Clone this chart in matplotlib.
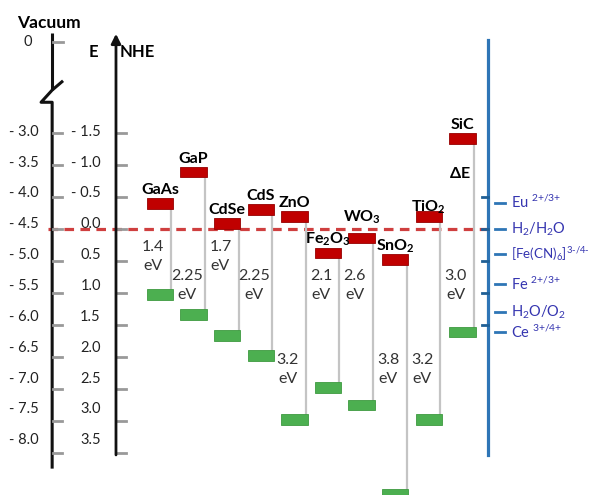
import matplotlib
matplotlib.use('Agg')
import matplotlib.pyplot as plt

plt.rcParams['font.family'] = ['Lato', 'DejaVu Sans']
plt.rcParams['mathtext.fontset'] = 'custom'
plt.rcParams['mathtext.rm'] = 'Lato'
plt.rcParams['mathtext.it'] = 'Lato'
plt.rcParams['mathtext.bf'] = 'Lato:bold'
plt.rcParams['mathtext.default'] = 'regular'

# band edges vs NHE (V)
materials = ['GaAs', 'GaP', 'CdSe', 'CdS', 'ZnO', r'Fe$_2$O$_3$', r'WO$_3$',
             r'SnO$_2$', r'TiO$_2$', 'SiC']
cb = [-0.40, -0.89, -0.09, -0.31, -0.20, 0.375, 0.14, 0.48, -0.19, -1.42]
vb = [1.03, 1.33, 1.66, 1.98, 2.97, 2.48, 2.75, 4.15, 2.98, 1.61]
gap_labels = ['1.4', '2.25', '1.7', '2.25', '3.2', '2.1', '2.6', '3.8', '3.2', '3.0']

# redox couples vs NHE (V)
redox_names = [r'Eu $^{\text{2+/3+}}$', r'H$_2$/H$_2$O', r'[Fe(CN)$_6$]$^{\text{3-/4-}}$',
               r'Fe $^{\text{2+/3+}}$', r'H$_2$O/O$_2$', r'Ce $^{\text{3+/4+}}$']
redox_pot = [-0.41, 0.0, 0.39, 0.86, 1.30, 1.61]

nhe_ticks = [-1.5, -1.0, -0.5, 0.0, 0.5, 1.0, 1.5, 2.0, 2.5, 3.0, 3.5]
vac_ticks = [-3.0, -3.5, -4.0, -4.5, -5.0, -5.5, -6.0, -6.5, -7.0, -7.5, -8.0]
blue_ticks = [-0.5, 0.0, 0.5, 1.0, 1.5]

# layout (data units: x = material index, y = V vs NHE)
gap_label_y = [0.43, 0.89, 0.43, 0.89, 2.2, 0.89, 0.89, 2.2, 2.2, 0.89]
name_extra = {6: 0.12, 8: -0.06}
redox_size = {2: 9.6}
VAC_X, NHE_X, BLUE_X = -3.21, -1.31, 9.76
BAR_W, BAR_H = 0.78, 0.17
RED, GREEN = '#c00000', '#4caf50'

fig = plt.figure(figsize=(5.93, 4.95), dpi=100)
ax = fig.add_axes([0, 0, 1, 1])
ax.set_xlim(-4.762, 12.887)
ax.set_ylim(4.156, -3.578)
ax.axis('off')

x = list(range(len(materials)))

# H2/H2O dashed reference line
ax.plot([VAC_X - 0.12, BLUE_X], [0, 0], color='#cf3f3f', lw=2.3,
        dashes=(3, 2), zorder=1)

# gap connectors and bars
for i in x:
    ax.plot([i + 0.34, i + 0.34], [cb[i], vb[i]], color='#c4c4c4', lw=1.6, zorder=2)
ax.bar(x, BAR_H, bottom=[c - BAR_H / 2 for c in cb], width=BAR_W,
       color=RED, edgecolor='#950000', lw=0.6, zorder=3)
ax.bar(x, BAR_H, bottom=[v - BAR_H / 2 for v in vb], width=BAR_W,
       color=GREEN, edgecolor='#3d9a40', lw=0.6, zorder=3)

for i in x:
    name = materials[i]
    if '$' in name:
        name = r'$\mathbf{%s}$' % name.replace('$', '')
    ax.text(i, cb[i] - 0.14 - name_extra.get(i, 0), name,
            ha='center', va='baseline', fontsize=11.5, fontweight='bold', zorder=4)
    ax.text(i - 0.2, gap_label_y[i], gap_labels[i] + '\neV', ha='center', va='center',
            fontsize=11.5, color='#333333', linespacing=1.45, zorder=4)

ax.text(8.93, -0.875, r'$\mathbf{\Delta E}$', ha='center', va='center', fontsize=11.5)

# vacuum scale with axis break
ax.plot([VAC_X, VAC_X], [-3.06, -2.17], color='#111111', lw=2.2, solid_capstyle='butt')
ax.plot([VAC_X + 0.29, VAC_X, VAC_X - 0.33, VAC_X, VAC_X],
        [-2.30, -2.17, -1.98, -1.98, 3.72], color='#111111', lw=2.2)
ax.plot([VAC_X + 0.03, VAC_X + 0.33], [-2.92, -2.92], color='#999999', lw=2)
ax.text(VAC_X - 0.72, -2.92, '0', ha='center', va='center', fontsize=10.5, color='#222222')
for k, (v, e) in enumerate(zip(vac_ticks, nhe_ticks)):
    ax.plot([VAC_X + 0.03, VAC_X + 0.3], [e, e], color='#999999', lw=2)
    ax.text(VAC_X - 0.39, e - 0.02 - 0.018 * k, '- %.1f' % abs(v),
            ha='right', va='center', fontsize=10.5, color='#222222')
ax.text(VAC_X - 0.1, -3.22, 'Vacuum', ha='center', va='center', fontsize=12.5,
        fontweight='bold')

# NHE scale
ax.annotate('', xy=(NHE_X, -3.05), xytext=(NHE_X, 3.53),
            arrowprops=dict(arrowstyle='-|>', lw=2, color='#111111', mutation_scale=14,
                            shrinkA=0, shrinkB=0))
for k, e in enumerate(nhe_ticks):
    ax.plot([NHE_X + 0.03, NHE_X + 0.3], [e, e], color='#999999', lw=2)
    lab = ('- %.1f' % abs(e)) if e < 0 else '%.1f' % e
    ax.text(NHE_X - 0.45, e - 0.02 - 0.018 * k, lab,
            ha='right', va='center', fontsize=10.5, color='#222222')
ax.text(NHE_X - 0.68, -2.77, 'E', ha='center', va='center', fontsize=12, fontweight='bold')
ax.text(NHE_X + 0.12, -2.77, 'NHE', ha='left', va='center', fontsize=12, fontweight='bold')

# redox scale
ax.plot([BLUE_X, BLUE_X], [-2.95, 3.53], color='#2e75b6', lw=2.3, zorder=2)
for e in blue_ticks:
    ax.plot([BLUE_X - 0.18, BLUE_X], [e, e], color='#1f5f95', lw=2)
for j, (name, e) in enumerate(zip(redox_names, redox_pot)):
    ax.plot([BLUE_X + 0.2, BLUE_X + 0.5], [e, e], color='#2e75b6', lw=2)
    ax.text(BLUE_X + 0.7, e, name, ha='left', va='center',
            fontsize=redox_size.get(j, 10.5), color='#3535b0')

fig.savefig('out.png', dpi=100)
